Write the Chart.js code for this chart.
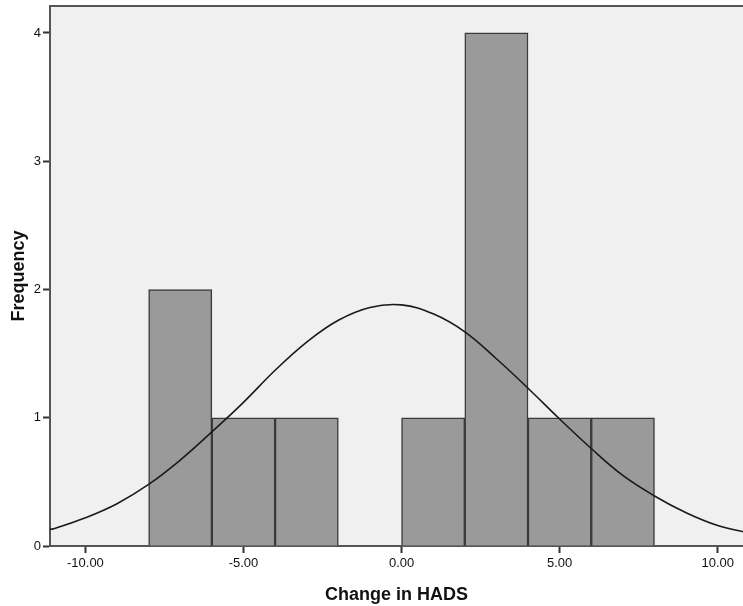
<!DOCTYPE html>
<html>
<head>
<meta charset="utf-8">
<script src="https://cdn.jsdelivr.net/npm/chart.js@4.4.1/dist/chart.umd.min.js"></script>
<style>
  html, body { margin: 0; padding: 0; background: #fff; }
  canvas { display: block; }
</style>
</head>
<body>
<canvas id="histChart" width="743" height="606"></canvas>
<script>
// histogram bins (width 2), given by bin centre and count
var binCenters = [-7, -5, -3, -1, 1, 3, 5, 7];
var binCounts  = [2, 1, 1, 0, 1, 4, 1, 1];

// fitted normal curve, read at whole-number steps
var curveX = [-11.2, -11, -10, -9, -8, -7, -6, -5, -4, -3, -2, -1, 0, 1, 2, 3, 4, 5, 6, 7, 8, 9, 10, 11];
var curveY = [0.13, 0.135, 0.22, 0.33, 0.48, 0.67, 0.89, 1.12, 1.37, 1.59, 1.76, 1.86, 1.88, 1.81, 1.67, 1.46, 1.23, 0.99, 0.76, 0.55, 0.39, 0.26, 0.16, 0.10];

var xTicks = [-10, -5, 0, 5, 10];
var yTicks = [0, 1, 2, 3, 4];

var axisColor = '#555555';

var plotBackground = {
    id: 'plotBackground',
    beforeDraw: function(chart) {
        var a = chart.chartArea, c = chart.ctx;
        c.save();
        c.fillStyle = '#f0f0f0';
        c.fillRect(a.left, a.top, a.right - a.left, a.bottom - a.top);
        c.restore();
    },
    afterDraw: function(chart) {
        var a = chart.chartArea, c = chart.ctx;
        c.save();
        c.strokeStyle = axisColor;
        c.lineWidth = 2;
        c.beginPath();
        c.moveTo(a.left, a.top);
        c.lineTo(a.right, a.top);
        c.stroke();
        c.restore();
    }
};

new Chart(document.getElementById('histChart').getContext('2d'), {
    data: {
        datasets: [
            {
                type: 'line',
                data: curveX.map(function(x, i) { return { x: x, y: curveY[i] }; }),
                borderColor: '#1a1a1a',
                borderWidth: 1.6,
                pointRadius: 0,
                tension: 0.4,
                fill: false,
                order: 0
            },
            {
                type: 'bar',
                data: binCenters.map(function(x, i) { return { x: x, y: binCounts[i] }; }),
                backgroundColor: '#9a9a9a',
                borderColor: '#3a3a3a',
                borderWidth: 1.5,
                barPercentage: 1,
                categoryPercentage: 1,
                order: 1
            }
        ]
    },
    options: {
        responsive: false,
        animation: false,
        devicePixelRatio: 1,
        layout: { padding: { top: 6, right: 0, left: 0, bottom: 0 } },
        plugins: {
            legend: { display: false },
            tooltip: { enabled: false }
        },
        scales: {
            x: {
                type: 'linear',
                offset: false,
                min: -11.12,
                max: 10.8,
                afterBuildTicks: function(scale) {
                    scale.ticks = xTicks.map(function(v) { return { value: v }; });
                },
                afterFit: function(scale) {
                    scale.height = 60;
                    scale.paddingLeft = 0;
                    scale.paddingRight = 0;
                },
                grid: { offset: false, drawOnChartArea: false, tickLength: 7, tickColor: '#333', tickWidth: 2 },
                border: { color: axisColor, width: 2 },
                ticks: {
                    color: '#111',
                    padding: 3,
                    maxRotation: 0,
                    font: { family: 'Liberation Sans, Arial', size: 13 },
                    callback: function(v) { return v.toFixed(2); }
                },
                title: {
                    display: true,
                    text: 'Change in HADS',
                    color: '#111',
                    padding: { top: 8, bottom: 0 },
                    font: { family: 'Liberation Sans, Arial', size: 18, weight: 'bold' }
                }
            },
            y: {
                type: 'linear',
                min: 0,
                max: 4.21,
                afterBuildTicks: function(scale) {
                    scale.ticks = yTicks.map(function(v) { return { value: v }; });
                },
                afterFit: function(scale) {
                    scale.width = 50;
                    scale.paddingTop = 0;
                    scale.paddingBottom = 0;
                },
                grid: { drawOnChartArea: false, tickLength: 7, tickColor: '#333', tickWidth: 2 },
                border: { color: axisColor, width: 2 },
                ticks: {
                    color: '#111',
                    padding: 2,
                    font: { family: 'Liberation Sans, Arial', size: 13 }
                },
                title: {
                    display: true,
                    text: 'Frequency',
                    color: '#111',
                    padding: { top: 8, bottom: 0 },
                    font: { family: 'Liberation Sans, Arial', size: 18, weight: 'bold' }
                }
            }
        }
    },
    plugins: [plotBackground]
});
</script>
</body>
</html>
